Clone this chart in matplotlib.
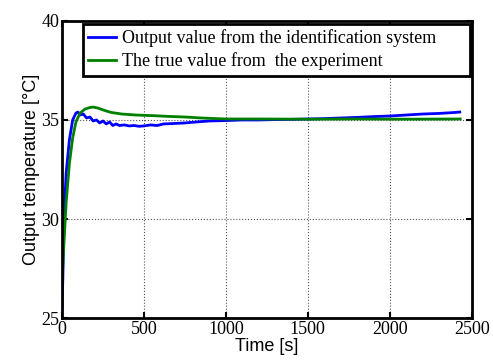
import matplotlib
matplotlib.use("Agg")
import matplotlib.pyplot as plt
import numpy as np

# Values
t_ident = [0, 5, 12, 25, 45, 65, 85, 97, 110, 130, 150, 170, 190, 210, 230, 250, 270, 290,
           310, 330, 350, 380, 410, 440, 470, 500, 540, 580, 620, 680, 750, 820, 900, 1000,
           1100, 1200, 1300, 1400, 1500, 1600, 1700, 1800, 1900, 2000, 2100, 2200, 2300,
           2400, 2427]
y_ident = [25.5, 27.0, 30.0, 32.3, 34.0, 35.0, 35.35, 35.4, 35.25, 35.3, 35.1, 35.15, 34.95,
           35.0, 34.85, 34.95, 34.8, 34.9, 34.72, 34.8, 34.72, 34.75, 34.7, 34.72, 34.68, 34.7,
           34.75, 34.72, 34.8, 34.82, 34.85, 34.9, 34.95, 34.97, 35.0, 35.0, 35.02, 35.03, 35.05,
           35.07, 35.1, 35.13, 35.17, 35.2, 35.25, 35.3, 35.33, 35.38, 35.4]

t_true = [0, 10, 25, 45, 65, 85, 110, 140, 170, 190, 220, 260, 300, 365, 450, 550, 650,
          750, 850, 1000, 1200, 1500, 1800, 2100, 2430]
y_true = [26.9, 28.5, 30.8, 32.8, 34.1, 34.9, 35.35, 35.55, 35.63, 35.65, 35.6, 35.48, 35.38,
          35.3, 35.25, 35.22, 35.18, 35.15, 35.1, 35.05, 35.05, 35.04, 35.05, 35.04, 35.05]

x_ticks = [0, 500, 1000, 1500, 2000, 2500]
y_ticks = [25, 30, 35, 40]

fig = plt.figure(figsize=(4.93, 3.61), dpi=100)
ax = fig.add_axes([0.1258, 0.119, 0.831, 0.823])

ax.plot(t_ident, y_ident, color="#0000ff", lw=2, label="Output value from the identification system")
ax.plot(t_true, y_true, color="#008000", lw=2, label="The true value from  the experiment")

ax.set_xlim(0, 2500)
ax.set_ylim(25, 40)
ax.set_xticks(x_ticks)
ax.set_yticks(y_ticks)
ax.grid(True, linestyle=":", color="#555555", lw=0.8)
ax.tick_params(direction="in", top=True, right=True, width=1.5, length=4, pad=2)
for lab in ax.get_xticklabels() + ax.get_yticklabels():
    lab.set_fontfamily("Liberation Serif")
    lab.set_fontsize(13)
for s in ax.spines.values():
    s.set_linewidth(2)

ax.set_xlabel("Time [s]", fontfamily="Liberation Sans", fontsize=13, labelpad=0)
ax.set_ylabel("Output temperature [\u00b0C]", fontfamily="Liberation Sans", fontsize=13, labelpad=1)

# MATLAB-style legend box, wide with empty space on the right
leg = ax.legend(loc="upper left", bbox_to_anchor=(0.051, 0.5, 0.944, 0.49), mode="expand",
                prop={"family": "Liberation Serif", "size": 13},
                fancybox=False, framealpha=1, edgecolor="black", borderaxespad=0,
                handlelength=1.55, handletextpad=0.3, borderpad=0.3, labelspacing=0.3)
leg.get_frame().set_linewidth(2)

fig.savefig("out.png", dpi=100)
